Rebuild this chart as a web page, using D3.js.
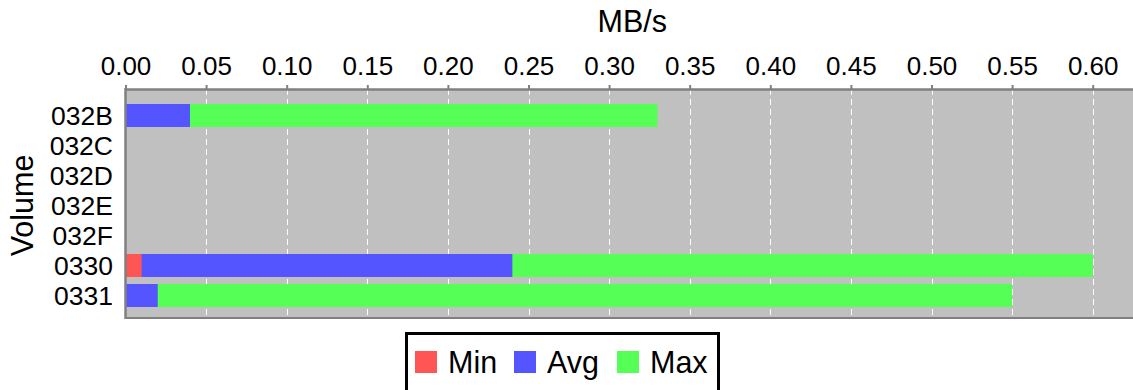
<!DOCTYPE html>
<html><head><meta charset="utf-8">
<script src="https://cdn.jsdelivr.net/npm/d3@7"></script>
<style>
html,body{margin:0;padding:0;background:#fff;}
svg{display:block;font-family:"Liberation Sans",Arial,sans-serif;}
</style></head>
<body>
<svg id="c" width="1133" height="390"></svg>
<script>
const categories = ["032B","032C","032D","032E","032F","0330","0331"];
const minVals = [0, 0, 0, 0, 0, 0.01, 0];
const avgVals = [0.04, 0, 0, 0, 0, 0.24, 0.02];
const maxVals = [0.33, 0, 0, 0, 0, 0.60, 0.55];
const tickValues = [0,0.05,0.10,0.15,0.20,0.25,0.30,0.35,0.40,0.45,0.50,0.55,0.60];
const seriesNames = ["Min","Avg","Max"];
const seriesColors = ["#FF5555","#5555FF","#55FF55"];

const svg = d3.select("#c");
const plotTop = 89, plotBottom = 318, plotLeft = 125.5, plotRight = 1133;

const x = d3.scaleLinear().domain([0, 0.625]).range([plotLeft, plotRight]);
const y = d3.scaleBand().domain(categories).range([104, 307]).paddingInner(7/30).paddingOuter(0);

// background
svg.append("rect").attr("x", plotLeft).attr("y", plotTop)
  .attr("width", plotRight - plotLeft).attr("height", plotBottom - plotTop)
  .attr("fill", "#C0C0C0");

// grid
svg.append("g").selectAll("line").data(tickValues.filter(d => d > 0)).join("line")
  .attr("x1", d => Math.round(x(d)) + 0.5).attr("x2", d => Math.round(x(d)) + 0.5)
  .attr("y1", plotTop).attr("y2", plotBottom)
  .attr("stroke", "#fff").attr("stroke-width", 1).attr("stroke-dasharray", "6,4");

// bars: Max, Avg, Min layered
const layers = [[maxVals, seriesColors[2]], [avgVals, seriesColors[1]], [minVals, seriesColors[0]]];
layers.forEach(([vals, col]) => {
  svg.append("g").selectAll("rect").data(categories).join("rect")
    .attr("x", x(0))
    .attr("y", d => y(d))
    .attr("width", (d, i) => x(vals[i]) - x(0))
    .attr("height", y.bandwidth())
    .attr("fill", col);
});

// top axis
const ax = svg.append("g").attr("transform", `translate(0,${plotTop})`)
  .call(d3.axisTop(x).tickValues(tickValues).tickFormat(d3.format(".2f")).tickSize(4).tickSizeOuter(0));
ax.select(".domain").attr("stroke", "#808080").attr("stroke-width", 2.5);
ax.selectAll(".tick line").attr("stroke", "#808080").attr("stroke-width", 2);
ax.selectAll(".tick text").attr("font-size", 26).attr("fill", "#000").attr("y", -14).attr("dy", 0);

// left & bottom axis lines
svg.append("line").attr("x1", plotLeft).attr("x2", plotLeft).attr("y1", plotTop - 1).attr("y2", plotBottom + 1)
  .attr("stroke", "#808080").attr("stroke-width", 2.5);
svg.append("line").attr("x1", plotLeft).attr("x2", plotRight).attr("y1", plotBottom).attr("y2", plotBottom)
  .attr("stroke", "#808080").attr("stroke-width", 2);

// category labels
svg.append("g").selectAll("text").data(categories).join("text")
  .attr("x", 113).attr("y", d => y(d) + y.bandwidth() / 2)
  .attr("dy", "0.36em").attr("text-anchor", "end").attr("font-size", 26.5).attr("fill", "#000")
  .text(d => d);

// titles
svg.append("text").attr("x", (plotLeft + plotRight) / 2 + 3).attr("y", 32)
  .attr("text-anchor", "middle").attr("font-size", 30.5).text("MB/s");
svg.append("text").attr("transform", `translate(33,${(plotTop + plotBottom) / 2 + 2}) rotate(-90)`)
  .attr("text-anchor", "middle").attr("font-size", 30.5).text("Volume");

// legend
svg.append("rect").attr("x", 406.5).attr("y", 333.5).attr("width", 312).attr("height", 70)
  .attr("fill", "#fff").attr("stroke", "#000").attr("stroke-width", 3);
const legendX = [415, 514, 617];
const lg = svg.append("g").selectAll("g").data(seriesNames).join("g")
  .attr("transform", (d, i) => `translate(${legendX[i]},351)`);
lg.append("rect").attr("width", 22).attr("height", 22).attr("fill", (d, i) => seriesColors[i]);
lg.append("text").attr("x", 33).attr("y", 22).attr("font-size", 30.5).attr("fill", "#000").text(d => d);
</script>
</body></html>
